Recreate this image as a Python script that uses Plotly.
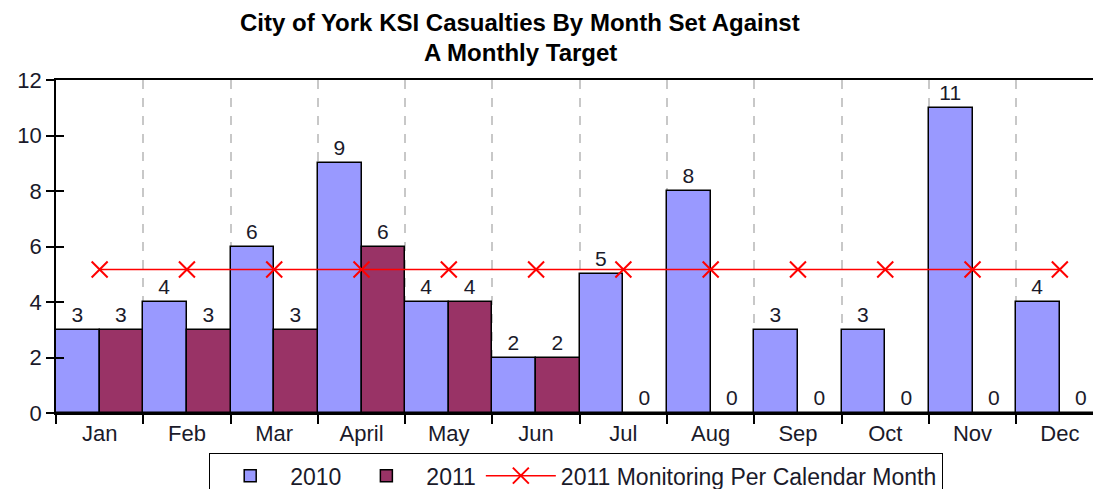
import plotly.graph_objects as go

months = ["Jan", "Feb", "Mar", "April", "May", "Jun", "Jul", "Aug", "Sep", "Oct", "Nov", "Dec"]
ksi_2010 = [3, 4, 6, 9, 4, 2, 5, 8, 3, 3, 11, 4]
ksi_2011 = [3, 3, 3, 6, 4, 2, 0, 0, 0, 0, 0, 0]
target_2011 = [5.17] * 12

FONT = "Liberation Sans, Arial, sans-serif"
TXT = "#1a1a2a"

W, H = 1093, 489
PL, PT, PB = 56, 80, 413  # plot left/top/bottom in pixels
PH = PB - PT

fig = go.Figure()
fig.add_trace(go.Bar(
    x=months, y=ksi_2010, name="2010",
    marker=dict(color="#9999FF", line=dict(color="black", width=1.5)),
    text=[str(v) for v in ksi_2010], textposition="outside",
    textfont=dict(size=21, color=TXT, family=FONT), cliponaxis=False,
))
fig.add_trace(go.Bar(
    x=months, y=ksi_2011, name="2011",
    marker=dict(color="#993366", line=dict(color="black", width=1.5)),
    text=[str(v) for v in ksi_2011], textposition="outside",
    textfont=dict(size=21, color=TXT, family=FONT), cliponaxis=False,
))
fig.add_trace(go.Scatter(
    x=months, y=target_2011, name="2011 Monitoring Per Calendar Month",
    mode="lines+markers",
    line=dict(color="#FF0000", width=1.5),
    marker=dict(symbol="x-thin", size=16, line=dict(color="#FF0000", width=2)),
    cliponaxis=False,
))
# empty helper trace so the overlay axis (inner half of the cross ticks) is drawn
fig.add_trace(go.Scatter(x=[], y=[], yaxis="y2", showlegend=False, hoverinfo="skip"))

TX = (520 - PL) / (W - PL)
fig.add_annotation(text="<b>City of York KSI Casualties By Month Set Against</b>",
                   xref="paper", yref="paper", x=TX, y=(PB - 23) / PH,
                   xanchor="center", yanchor="middle", showarrow=False,
                   font=dict(size=24, color="black", family=FONT))
fig.add_annotation(text="<b>A Monthly Target</b>",
                   xref="paper", yref="paper", x=TX, y=(PB - 53) / PH,
                   xanchor="center", yanchor="middle", showarrow=False,
                   font=dict(size=24, color="black", family=FONT))

fig.update_layout(
    width=W, height=H,
    margin=dict(l=PL, r=0, t=PT, b=H - PB, autoexpand=False),
    paper_bgcolor="white", plot_bgcolor="white",
    barmode="group", bargap=0, bargroupgap=0,
    font=dict(family=FONT, color=TXT),
    showlegend=True,
    legend=dict(orientation="h", x=(576 - PL) / (W - PL), xanchor="center",
                yref="container", y=(H - 453) / H, yanchor="top",
                bordercolor="black", borderwidth=1.2, bgcolor="white",
                font=dict(size=23, color=TXT, family=FONT),
                itemwidth=70, tracegroupgap=0),
    xaxis=dict(
        type="category", range=[-0.5, 11.38], automargin=False,
        tickson="boundaries", ticks="outside", ticklen=9, tickcolor="black", tickwidth=1.5,
        showline=True, linecolor="black", linewidth=1.5, mirror=True,
        showgrid=True, gridcolor="#c8c8c8", griddash="dash", gridwidth=1.5,
        tickfont=dict(size=22, color=TXT, family=FONT),
        zeroline=False,
    ),
    yaxis=dict(
        range=[0, 12], dtick=2, tick0=0, automargin=False,
        ticks="outside", ticklen=8, tickcolor="black", tickwidth=1.5,
        showline=True, linecolor="black", linewidth=1.5,
        showgrid=False, zeroline=False,
        tickfont=dict(size=22, color=TXT, family=FONT),
    ),
    yaxis2=dict(
        overlaying="y", side="left", anchor="x",
        range=[0, 12], dtick=2, tick0=0, automargin=False,
        ticks="inside", ticklen=8, tickcolor="black", tickwidth=1.5,
        showticklabels=False, showline=False, showgrid=False, zeroline=False,
    ),
)

fig.write_html(
    "out.html",
    config={"displayModeBar": False},
    post_script="document.body.style.margin='0';document.body.style.overflow='hidden';",
)
